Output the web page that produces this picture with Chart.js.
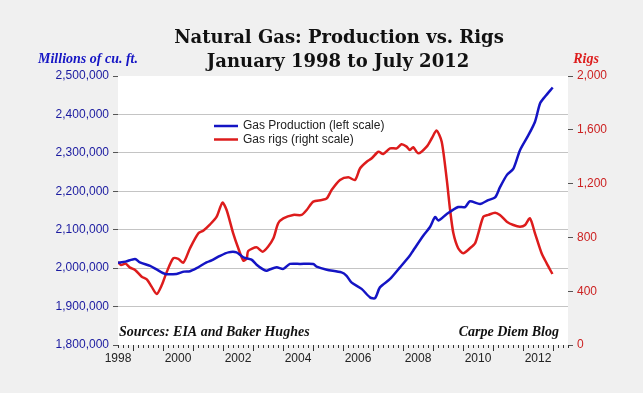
<!DOCTYPE html>
<html>
<head>
  <title>Natural Gas: Production vs. Rigs</title>
  <script src="https://cdn.jsdelivr.net/npm/chart.js"></script>
  <style>
    body { margin: 0; background: #f0f0f0; }
  </style>
</head>
<body>
  <canvas id="gasChart" width="643" height="393"></canvas>
  <script>
    // values (x = decimal year)
    const prodDates = [1998.00, 1998.25, 1998.57, 1998.73, 1999.07, 1999.30, 1999.57, 1999.95, 2000.20, 2000.40,
      2000.62, 2000.95, 2001.12, 2001.40, 2001.68, 2001.95, 2002.18, 2002.45, 2002.62, 2002.85,
      2002.96, 2003.07, 2003.29, 2003.51, 2003.73, 2004.07, 2004.51, 2004.62, 2004.96, 2005.45,
      2005.62, 2005.78, 2006.12, 2006.40, 2006.57, 2006.73, 2007.07, 2007.40, 2007.73, 2007.84,
      2008.18, 2008.40, 2008.57, 2008.68, 2008.96, 2009.34, 2009.57, 2009.73, 2010.07, 2010.34,
      2010.57, 2010.73, 2010.96, 2011.18, 2011.40, 2011.68, 2011.90, 2012.07, 2012.23, 2012.49];
    const prodValues = [2014000, 2017000, 2024000, 2015000, 2006000, 1996000, 1985000, 1985000, 1991000, 1992000,
      2000000, 2015000, 2020000, 2032000, 2041000, 2041000, 2028000, 2022000, 2009000, 1996000,
      1993000, 1997000, 2002000, 1998000, 2011000, 2011000, 2011000, 2004000, 1996000, 1989000,
      1980000, 1963000, 1946000, 1924000, 1922000, 1950000, 1972000, 2002000, 2033000, 2046000,
      2085000, 2107000, 2133000, 2124000, 2141000, 2159000, 2159000, 2174000, 2167000, 2177000,
      2184000, 2210000, 2242000, 2259000, 2307000, 2346000, 2381000, 2429000, 2446000, 2470000];

    const rigDates = [1998.00, 1998.10, 1998.25, 1998.40, 1998.57, 1998.79, 1998.96, 1999.12, 1999.29, 1999.46,
      1999.62, 1999.84, 2000.01, 2000.18, 2000.40, 2000.68, 2000.84, 2001.07, 2001.29, 2001.48,
      2001.62, 2001.84, 2002.01, 2002.18, 2002.29, 2002.34, 2002.62, 2002.82, 2003.00, 2003.18,
      2003.34, 2003.51, 2003.84, 2004.12, 2004.29, 2004.51, 2004.79, 2004.96, 2005.12, 2005.40,
      2005.68, 2005.90, 2006.07, 2006.29, 2006.46, 2006.68, 2006.84, 2007.07, 2007.29, 2007.45,
      2007.62, 2007.73, 2007.84, 2008.01, 2008.29, 2008.46, 2008.62, 2008.79, 2008.96, 2009.07,
      2009.18, 2009.34, 2009.51, 2009.73, 2009.90, 2010.01, 2010.18, 2010.34, 2010.57, 2010.73,
      2010.96, 2011.18, 2011.40, 2011.57, 2011.73, 2011.90, 2012.12, 2012.29, 2012.48];
    const rigValues = [617, 595, 605, 575, 558, 508, 488, 434, 379, 446,
      540, 644, 640, 612, 719, 830, 850, 897, 954, 1058,
      1004, 830, 719, 627, 644, 699, 726, 694, 731, 793,
      905, 942, 967, 967, 1004, 1066, 1078, 1090, 1152, 1227,
      1247, 1227, 1314, 1363, 1388, 1437, 1420, 1462, 1462, 1492,
      1475, 1450, 1470, 1425, 1475, 1537, 1594, 1512, 1227, 1004,
      830, 719, 682, 719, 756, 830, 954, 967, 984, 967,
      917, 892, 880, 892, 942, 830, 682, 607, 528];

    const yearLabels = [1998, 2000, 2002, 2004, 2006, 2008, 2010, 2012];

    const blue = '#1414c4';
    const red = '#dd1c1c';

    const decor = {
      id: 'decor',
      beforeDraw(chart) {
        const { ctx, chartArea: a } = chart;
        ctx.save();
        ctx.fillStyle = '#fff';
        ctx.fillRect(a.left, a.top, a.right - a.left, a.bottom - a.top);
        ctx.restore();
      },
      afterDraw(chart) {
        const { ctx, chartArea: a } = chart;
        const x = chart.scales.x;
        ctx.save();
        // title
        ctx.fillStyle = '#111';
        ctx.textAlign = 'center';
        ctx.textBaseline = 'middle';
        ctx.font = 'bold 18px "DejaVu Serif"';
        ctx.fillText('Natural Gas: Production vs. Rigs', 339, 38);
        ctx.fillText('January 1998 to July 2012', 338, 62);
        // axis titles
        ctx.font = 'bold italic 14px "Liberation Serif"';
        ctx.fillStyle = blue;
        ctx.fillText('Millions of cu. ft.', 88, 59);
        ctx.fillStyle = red;
        ctx.fillText('Rigs', 586, 59);
        // notes
        ctx.fillStyle = '#111';
        ctx.font = 'bold italic 14px "Liberation Serif"';
        ctx.textAlign = 'left';
        ctx.fillText('Sources: EIA and Baker Hughes', a.left + 1, 332);
        ctx.textAlign = 'right';
        ctx.fillText('Carpe Diem Blog', 559, 332);
        // legend
        ctx.textAlign = 'left';
        ctx.font = '12px "Liberation Sans"';
        chart.data.datasets.forEach((ds, i) => {
          const y = 126 + i * 13.5;
          ctx.strokeStyle = ds.borderColor;
          ctx.lineWidth = 2.5;
          ctx.beginPath();
          ctx.moveTo(214, y);
          ctx.lineTo(238, y);
          ctx.stroke();
          ctx.fillStyle = '#222';
          ctx.fillText(ds.label, 243, y);
        });
        // x axis tick marks: every 2 months, longer at mid-year
        ctx.strokeStyle = '#333';
        ctx.lineWidth = 1;
        for (let m = 0; m <= 15 * 6; m++) {
          const px = Math.round(x.getPixelForValue(1998 + m / 6)) + 0.5;
          const len = (m % 6 === 3) ? 6 : 3;
          ctx.beginPath();
          ctx.moveTo(px, a.bottom);
          ctx.lineTo(px, a.bottom + len);
          ctx.stroke();
        }
        ctx.restore();
      }
    };

    const ctx = document.getElementById('gasChart').getContext('2d');
    new Chart(ctx, {
      type: 'line',
      data: {
        datasets: [
          {
            label: 'Gas Production (left scale)',
            data: prodDates.map((d, i) => ({ x: d, y: prodValues[i] })),
            borderColor: blue, borderWidth: 2.5, pointRadius: 0, tension: 0.25, yAxisID: 'y'
          },
          {
            label: 'Gas rigs (right scale)',
            data: rigDates.map((d, i) => ({ x: d, y: rigValues[i] })),
            borderColor: red, borderWidth: 2.5, pointRadius: 0, tension: 0.25, yAxisID: 'y2'
          }
        ]
      },
      options: {
        responsive: false,
        animation: false,
        layout: { padding: { top: 76, left: 0, right: 0, bottom: 0 } },
        plugins: { legend: { display: false }, tooltip: { enabled: false } },
        scales: {
          x: {
            type: 'linear', min: 1998, max: 2013,
            afterBuildTicks: s => { s.ticks = yearLabels.map(v => ({ value: v })); },
            afterFit: s => { s.height = 48; },
            grid: { display: false, drawTicks: false },
            border: { display: false },
            ticks: { color: '#222', font: { family: 'Liberation Sans', size: 12 }, padding: 6, callback: v => String(v), maxRotation: 0 }
          },
          y: {
            position: 'left', min: 1800000, max: 2500000,
            afterFit: s => { s.width = 118; },
            border: { display: false },
            grid: {
              color: c => (c.index === 0 || c.index === 7) ? 'rgba(0,0,0,0)' : '#c4c4c4',
              tickColor: '#555', tickLength: 5
            },
            ticks: {
              stepSize: 100000, color: '#1a1aa0', padding: 4,
              font: { family: 'Liberation Sans', size: 12 },
              callback: v => v.toLocaleString('en-US')
            }
          },
          y2: {
            position: 'right', min: 0, max: 2000,
            afterFit: s => { s.width = 75; },
            border: { display: false },
            grid: { drawOnChartArea: false, tickColor: '#555', tickLength: 5 },
            ticks: {
              stepSize: 400, color: '#cc2222', padding: 4,
              font: { family: 'Liberation Sans', size: 12 },
              callback: v => v.toLocaleString('en-US')
            }
          }
        }
      },
      plugins: [decor]
    });
  </script>
</body>
</html>
